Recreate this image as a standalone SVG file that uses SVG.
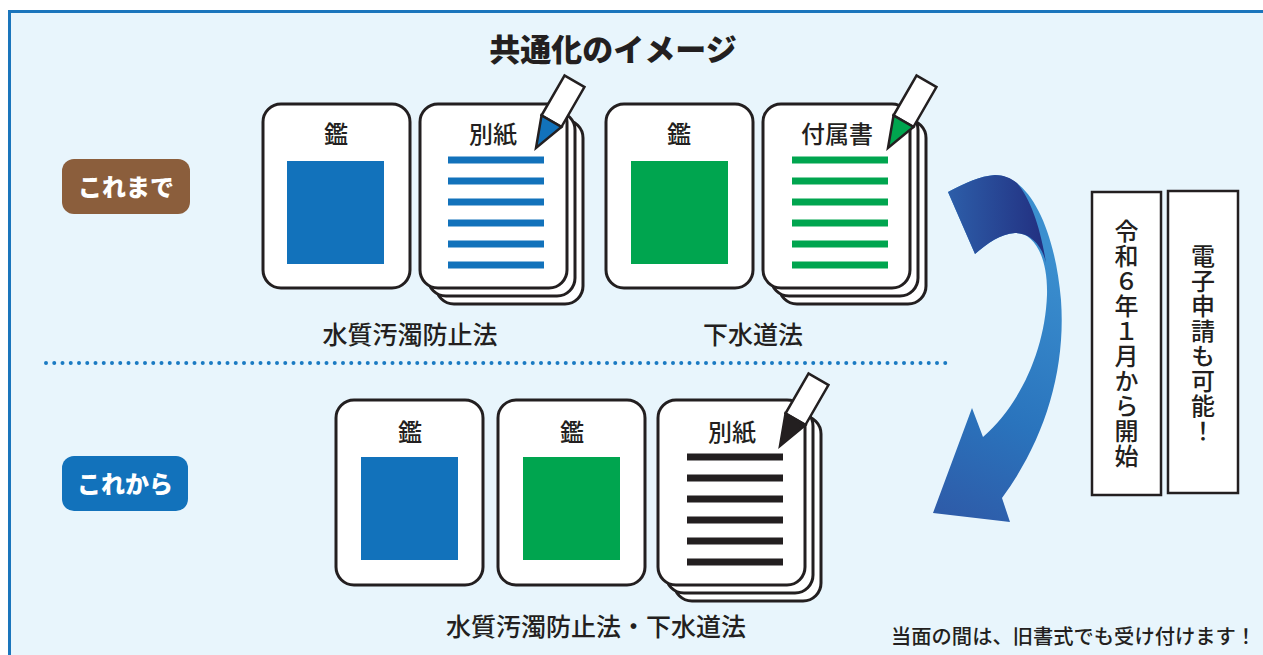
<svg xmlns="http://www.w3.org/2000/svg" xmlns:xlink="http://www.w3.org/1999/xlink" width="1263" height="655" viewBox="0 0 1263 655">
  <style>
    .jp { font-family: "Noto Sans CJK JP", "Noto Sans CJK SC", sans-serif; }
    .card { fill: #ffffff; stroke: #231f20; stroke-width: 3; }
    .lbl { font-size: 24px; font-weight: 500; fill: #231f20; text-anchor: middle; }
    .law { font-size: 25px; font-weight: 500; fill: #231f20; text-anchor: middle; }
    .pen { stroke: #231f20; stroke-width: 2.5; stroke-linejoin: miter; }
    .badge-txt { font-size: 24px; font-weight: 900; fill: #ffffff; text-anchor: middle; }
    .vbox { fill: #ffffff; stroke: #231f20; stroke-width: 2.5; }
    .vtxt { font-size: 24px; font-weight: 500; fill: #231f20; writing-mode: vertical-rl; letter-spacing: 1px; }
    .blue { fill: #1272bb; }
    .green { fill: #00a54f; }
    .black { fill: #231f20; }
  </style>
  <defs>
    <!-- pencil pointing up, tip at origin; nib colour comes from the use element -->
    <g id="pencil" class="pen">
      <rect x="-11.5" y="-77" width="23" height="46" fill="#ffffff"/>
      <path d="M0,0 L-11.5,-31 L11.5,-31 Z"/>
    </g>
    <!-- ruled lines of a sheet -->
    <g id="rules">
      <rect x="0" y="0" width="96" height="7"/>
      <rect x="0" y="21" width="96" height="7"/>
      <rect x="0" y="42" width="96" height="7"/>
      <rect x="0" y="63" width="96" height="7"/>
      <rect x="0" y="84" width="96" height="7"/>
      <rect x="0" y="105" width="96" height="7"/>
    </g>
    <linearGradient id="arrowBody" gradientUnits="userSpaceOnUse" x1="1060" y1="260" x2="950" y2="515">
      <stop offset="0" stop-color="#3b8fcf"/>
      <stop offset="0.6" stop-color="#2a74bd"/>
      <stop offset="1" stop-color="#2e5ca9"/>
    </linearGradient>
    <linearGradient id="arrowBack" gradientUnits="userSpaceOnUse" x1="948" y1="0" x2="1046" y2="0">
      <stop offset="0" stop-color="#2d5ea9"/>
      <stop offset="1" stop-color="#222f80"/>
    </linearGradient>
  </defs>

  <!-- panel -->
  <rect x="9.5" y="11.5" width="1270" height="660" fill="#e8f5fc" stroke="#1a75bc" stroke-width="3"/>

  <!-- heading -->
  <text class="jp" x="613" y="61" font-size="31" font-weight="900" fill="#231f20" text-anchor="middle">共通化のイメージ</text>

  <!-- badges -->
  <g id="badge-before">
    <rect x="62" y="159" width="128" height="55" rx="12" fill="#8b5e3c"/>
    <text class="jp badge-txt" x="126" y="196">これまで</text>
  </g>
  <g id="badge-after">
    <rect x="62" y="456" width="126" height="55" rx="12" fill="#1272bb"/>
    <text class="jp badge-txt" x="125" y="493">これから</text>
  </g>

  <!-- section divider -->
  <line x1="46" y1="363" x2="950" y2="363" stroke="#1a7ac2" stroke-width="4" stroke-linecap="round" stroke-dasharray="0 8.25"/>

  <!-- upper row -->
  <g id="seal-water">
    <rect class="card" x="263" y="104" width="147" height="184" rx="18"/>
    <text class="jp lbl" x="336" y="143">鑑</text>
    <rect class="blue" x="287" y="161" width="97" height="103"/>
  </g>
  <g id="attachment-water">
    <rect class="card" x="436" y="120" width="147" height="184" rx="18"/>
    <rect class="card" x="428" y="112" width="147" height="184" rx="18"/>
    <rect class="card" x="420" y="104" width="147" height="184" rx="18"/>
    <text class="jp lbl" x="493" y="143">別紙</text>
    <use href="#rules" class="blue" transform="translate(448,156.5)"/>
    <use href="#pencil" fill="#1272bb" transform="translate(536,148) rotate(30)"/>
  </g>
  <text class="jp law" x="410" y="344">水質汚濁防止法</text>

  <g id="seal-sewer">
    <rect class="card" x="606" y="104" width="147" height="184" rx="18"/>
    <text class="jp lbl" x="679" y="143">鑑</text>
    <rect class="green" x="631" y="161" width="97" height="103"/>
  </g>
  <g id="attachment-sewer">
    <rect class="card" x="779" y="120" width="147" height="184" rx="18"/>
    <rect class="card" x="771" y="112" width="147" height="184" rx="18"/>
    <rect class="card" x="763" y="104" width="147" height="184" rx="18"/>
    <text class="jp lbl" x="837" y="143">付属書</text>
    <use href="#rules" class="green" transform="translate(792,156.5)"/>
    <use href="#pencil" fill="#00a54f" transform="translate(888,148) rotate(30)"/>
  </g>
  <text class="jp law" x="753" y="344">下水道法</text>

  <!-- lower row -->
  <g id="seal-common-blue">
    <rect class="card" x="336" y="400" width="147" height="185" rx="18"/>
    <text class="jp lbl" x="410" y="441">鑑</text>
    <rect class="blue" x="361" y="457" width="97" height="103"/>
  </g>
  <g id="seal-common-green">
    <rect class="card" x="498" y="400" width="147" height="185" rx="18"/>
    <text class="jp lbl" x="572" y="441">鑑</text>
    <rect class="green" x="523" y="457" width="97" height="103"/>
  </g>
  <g id="attachment-common">
    <rect class="card" x="674" y="416" width="147" height="185" rx="18"/>
    <rect class="card" x="666" y="408" width="147" height="185" rx="18"/>
    <rect class="card" x="658" y="400" width="147" height="185" rx="18"/>
    <text class="jp lbl" x="732" y="441">別紙</text>
    <use href="#rules" class="black" transform="translate(687,453.5)"/>
    <use href="#pencil" fill="#231f20" transform="translate(780,446) rotate(30)"/>
  </g>
  <text class="jp law" x="596" y="636">水質汚濁防止法・下水道法</text>

  <!-- transition arrow -->
  <g id="connectors">
    <path fill="url(#arrowBody)" d="M948,192 C965,183 980,176 995,175 C1030,176 1055,230 1061,300 C1066,370 1045,440 1002,498 L1010,522 L933,513 L972,408 L983,437 C1020,405 1045,350 1047,295 C1048,255 1033,232 1015,233 C1000,234 988,243 975,254 Z"/>
    <path fill="url(#arrowBack)" d="M948,192 C965,183 980,176 995,175 C1004,175 1011,178 1017,183 C1031,199 1041,230 1046,263 C1043,248 1032,233 1015,233 C1000,234 988,243 975,254 Z"/>
  </g>

  <!-- schedule note -->
  <g id="start-date">
    <rect class="vbox" x="1092" y="192" width="69" height="303"/>
    <text class="jp vtxt" x="1126.5" y="219">令和６年１月から開始</text>
  </g>
  <g id="e-application">
    <rect class="vbox" x="1168" y="191" width="70" height="302"/>
    <text class="jp vtxt" x="1203" y="244">電子申請も可能！</text>
  </g>

  <text class="jp" x="891" y="644" font-size="20.3" font-weight="500" fill="#231f20">当面の間は、旧書式でも受け付けます！</text>
</svg>
